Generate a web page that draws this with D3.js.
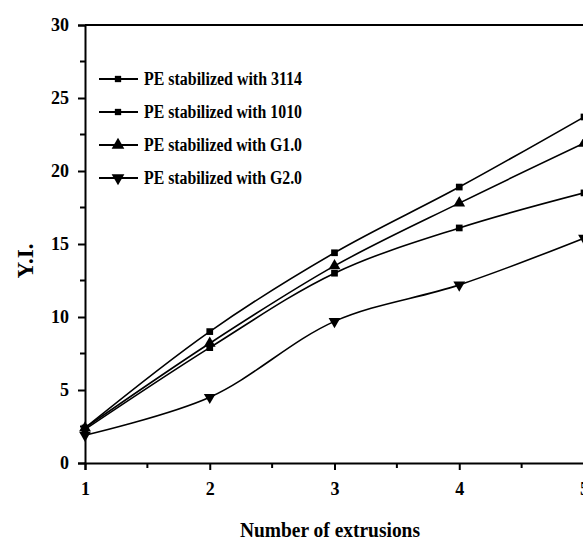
<!DOCTYPE html>
<html><head><meta charset="utf-8">
<script src="https://cdn.jsdelivr.net/npm/d3@7"></script>
<style>body{margin:0;background:#fff}svg{display:block}</style>
</head><body>
<script>
const extrusions = [1, 2, 3, 4, 5];
const s3114 = [2.4, 9.0, 14.4, 18.9, 23.7];
const s1010 = [2.3, 7.9, 13.0, 16.1, 18.5];
const sG10  = [2.4, 8.2, 13.5, 17.8, 21.9];
const sG20  = [1.9, 4.5, 9.7, 12.2, 15.4];
const seriesNames = ["PE stabilized with 3114","PE stabilized with 1010","PE stabilized with G1.0","PE stabilized with G2.0"];
const seriesSymbols = ["square","square","triangle","triangleDown"];
const xTicks = [1,2,3,4,5];
const yTicks = [0,5,10,15,20,25,30];

const W=583,H=541;
const svg=d3.select("body").append("svg").attr("width",W).attr("height",H);
const x=d3.scaleLinear().domain([1,5]).range([85,584]);
const y=d3.scaleLinear().domain([0,30]).range([463,25]);
const font="'Liberation Serif','Times New Roman',serif";

// frame top
svg.append("line").attr("x1",x(1)).attr("x2",W).attr("y1",y(30)).attr("y2",y(30)).attr("stroke","#000").attr("stroke-width",2);

// axes
const yAxis=d3.axisLeft(y).tickValues(yTicks).tickFormat(d3.format("d")).tickSize(7).tickPadding(9);
const gy=svg.append("g").attr("transform",`translate(${x(1)},0)`).call(yAxis);
const xAxis=d3.axisBottom(x).tickValues(xTicks).tickFormat(d3.format("d")).tickSize(7).tickPadding(12);
const gx=svg.append("g").attr("transform",`translate(0,${y(0)})`).call(xAxis);
[gx,gy].forEach(g=>{
  g.select(".domain").attr("stroke-width",2);
  g.selectAll(".tick line").attr("stroke-width",2);
  g.selectAll("text").attr("font-family",font).attr("font-size",18).attr("font-weight","bold").attr("fill","#000");
});
// minor ticks
const yMinor=d3.range(2.5,30,5);
svg.append("g").selectAll("line").data(yMinor).join("line")
  .attr("x1",x(1)-5).attr("x2",x(1)).attr("y1",d=>y(d)).attr("y2",d=>y(d)).attr("stroke","#000").attr("stroke-width",2);
const xMinor=[1.5,2.5,3.5,4.5];
svg.append("g").selectAll("line").data(xMinor).join("line")
  .attr("x1",d=>x(d)).attr("x2",d=>x(d)).attr("y1",y(0)).attr("y2",y(0)+5).attr("stroke","#000").attr("stroke-width",2);

// data
const allSeries=[s3114,s1010,sG10,sG20];
const line=d3.line().x((d,i)=>x(extrusions[i])).y(d=>y(d)).curve(d3.curveCatmullRom.alpha(0.5));
const symType={square:d3.symbolSquare,triangle:d3.symbolTriangle,triangleDown:d3.symbolTriangle};
const symSize={square:45,triangle:60,triangleDown:60};
allSeries.forEach((s,k)=>{
  svg.append("path").attr("d",line(s)).attr("fill","none").attr("stroke","#000").attr("stroke-width",1.6);
  const sym=d3.symbol().type(symType[seriesSymbols[k]]).size(symSize[seriesSymbols[k]]);
  svg.append("g").selectAll("path").data(s).join("path")
    .attr("d",sym)
    .attr("transform",(d,i)=>`translate(${x(extrusions[i])},${y(d)})`+(seriesSymbols[k]==="triangleDown"?" rotate(180)":""))
    .attr("fill","#000");
});

// legend
const legY=[79,112,145,178];
seriesNames.forEach((n,k)=>{
  const g=svg.append("g");
  g.append("line").attr("x1",99).attr("x2",138).attr("y1",legY[k]).attr("y2",legY[k]).attr("stroke","#000").attr("stroke-width",2);
  const st=seriesSymbols[k];
  g.append("path").attr("d",d3.symbol().type(symType[st]).size(st==="square"?40:70)())
    .attr("transform",`translate(118,${legY[k]})`+(st==="triangleDown"?" rotate(180)":"")).attr("fill","#000");
  g.append("text").attr("x",144).attr("y",legY[k]+6).text(n)
    .attr("font-family",font).attr("font-size",18).attr("font-weight","bold")
    .attr("textLength",158).attr("lengthAdjust","spacingAndGlyphs").attr("fill","#000");
});

// axis titles
svg.append("text").attr("x",240).attr("y",537).text("Number of extrusions")
  .attr("font-family",font).attr("font-size",20).attr("font-weight","bold")
  .attr("textLength",180).attr("lengthAdjust","spacingAndGlyphs").attr("fill","#000");
svg.append("text").attr("transform","translate(33,261) rotate(-90)").attr("text-anchor","middle").text("Y.I.")
  .attr("font-family",font).attr("font-size",23).attr("font-weight","bold").attr("fill","#000");
</script>
</body></html>
